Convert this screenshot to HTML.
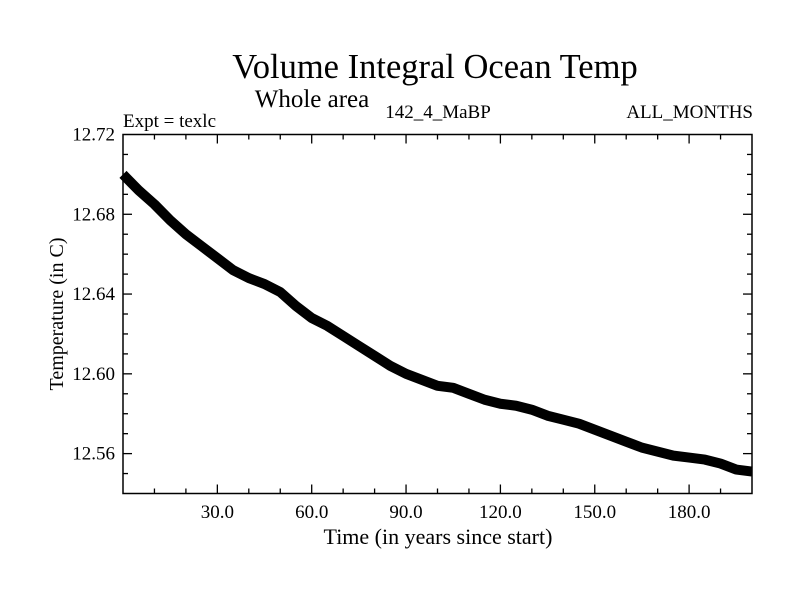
<!DOCTYPE html>
<html><head><meta charset="utf-8"><style>
body{margin:0;background:#fff}
svg text{font-family:"Liberation Serif",serif;fill:#000}
</style></head><body>
<svg id="c" width="800" height="600">
<text x="435" y="78" font-size="34.5" text-anchor="middle">Volume Integral Ocean Temp</text>
<text x="312" y="107" font-size="25" text-anchor="middle">Whole area</text>
<text x="123" y="127" font-size="19">Expt = texlc</text>
<text x="438" y="118" font-size="19" text-anchor="middle">142_4_MaBP</text>
<text x="753" y="118" font-size="19" text-anchor="end">ALL_MONTHS</text>
<text x="438" y="544" font-size="22" text-anchor="middle">Time (in years since start)</text>
<text transform="translate(63,314) rotate(-90)" font-size="20" text-anchor="middle">Temperature (in C)</text>
<g id="ax"></g>
<polyline id="ln" fill="none" stroke="#000" stroke-width="10" stroke-linejoin="round"/>
<rect x="123" y="134.5" width="629" height="359" fill="none" stroke="#000" stroke-width="1.5"/>
</svg>
<script>
const years=[0,5,10,15,20,25,30,35,40,45,50,55,60,65,70,75,80,85,90,95,100,105,110,115,120,125,130,135,140,145,150,155,160,165,170,175,180,185,190,195,200];
const temps=[12.700,12.692,12.685,12.677,12.670,12.664,12.658,12.652,12.648,12.645,12.641,12.634,12.628,12.624,12.619,12.614,12.609,12.604,12.600,12.597,12.594,12.593,12.590,12.587,12.585,12.584,12.582,12.579,12.577,12.575,12.572,12.569,12.566,12.563,12.561,12.559,12.558,12.557,12.555,12.552,12.551];
const xTicks=[30,60,90,120,150,180];
const xTickLabels=["30.0","60.0","90.0","120.0","150.0","180.0"];
const yTicks=[12.56,12.60,12.64,12.68,12.72];
const yTickLabels=["12.56","12.60","12.64","12.68","12.72"];
const X0=123,X1=752,Y0=493.5,Y1=134.5,xmin=0,xmax=200,ymin=12.54,ymax=12.72;
const sx=v=>X0+(v-xmin)/(xmax-xmin)*(X1-X0);
const sy=v=>Y0-(v-ymin)/(ymax-ymin)*(Y0-Y1);
const NS="http://www.w3.org/2000/svg",ax=document.getElementById('ax');
function ln(x1,y1,x2,y2,name){const l=document.createElementNS(NS,'line');
l.setAttribute('x1',x1);l.setAttribute('y1',y1);l.setAttribute('x2',x2);l.setAttribute('y2',y2);l.setAttribute('stroke','#000');l.setAttribute('stroke-width','1.3');


ax.appendChild(l);}
function tx(x,y,s,a,name){const t=document.createElementNS(NS,'text');t.setAttribute('x',x);t.setAttribute('y',y);t.setAttribute('font-size','19');t.setAttribute('text-anchor',a);t.textContent=s;


ax.appendChild(t);}
for(let v=10;v<200;v+=10){const x=sx(v),m=xTicks.includes(v)?9:5;ln(x,Y0,x,Y0-m,'x-tick');ln(x,Y1,x,Y1+m,'x-tick-top');}
xTicks.forEach((v,i)=>tx(sx(v),518,xTickLabels[i],'middle','x-tick-label'));
for(let k=1;k<18;k++){const v=ymin+k*0.01,y=sy(v),maj=(k%4===2);const m=maj?9:5;ln(X0,y,X0+m,y,'y-tick');ln(X1,y,X1-m,y,'y-tick-right');}
yTicks.forEach((v,i)=>tx(115,sy(v)+6,yTickLabels[i],'end','y-tick-label'));
document.getElementById('ln').setAttribute('points',years.map((y,i)=>sx(y)+','+sy(temps[i])).join(' '));
</script>
</body></html>
